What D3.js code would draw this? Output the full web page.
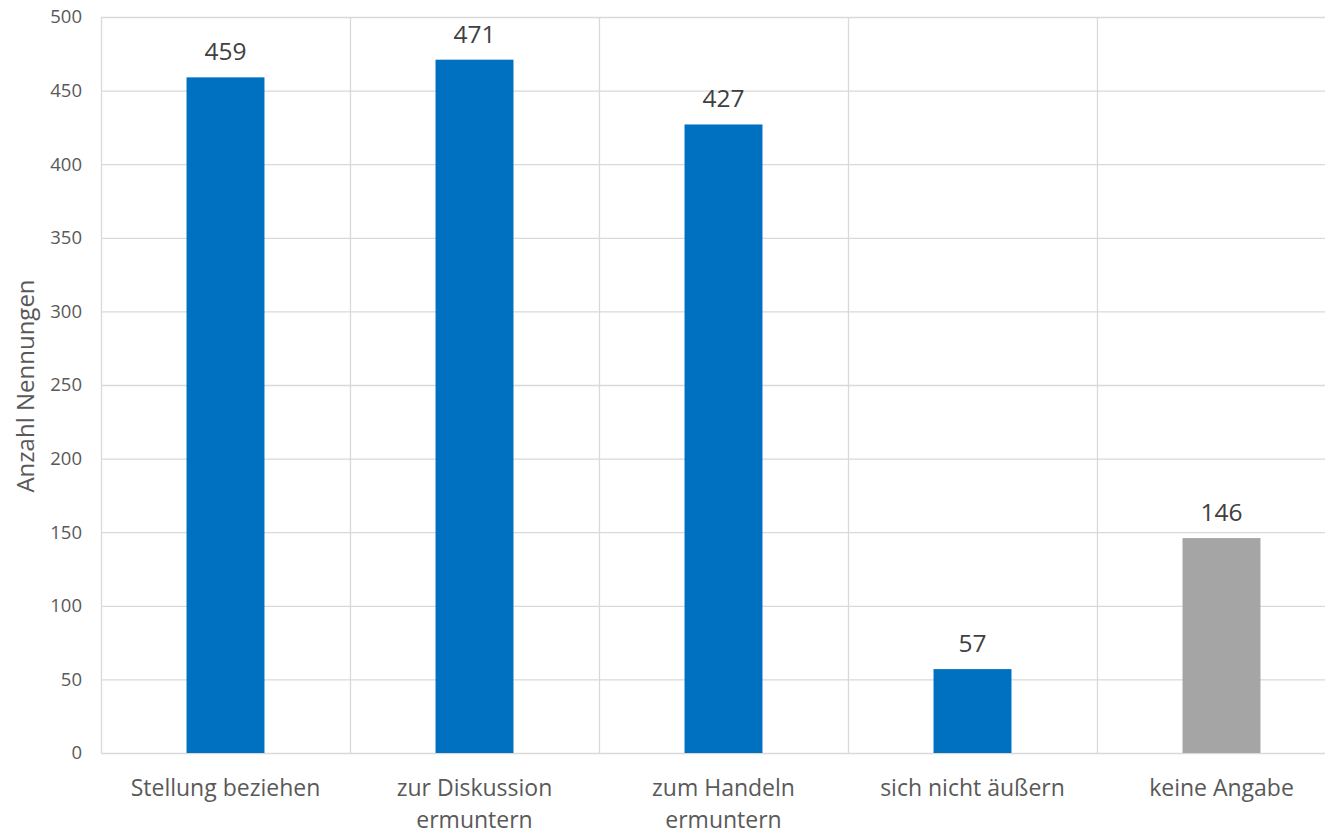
<!DOCTYPE html>
<html><head><meta charset="utf-8">
<script src="https://cdn.jsdelivr.net/npm/d3@7"></script>
<style>body{margin:0;background:#fff;} svg{display:block;font-family:"Open Sans",sans-serif;}</style>
</head><body>
<svg id="chart" width="1325" height="837"></svg>
<script>
const categories = ["Stellung beziehen", "zur Diskussion ermuntern", "zum Handeln ermuntern", "sich nicht äußern", "keine Angabe"];
const categoryLines = [["Stellung beziehen"], ["zur Diskussion", "ermuntern"], ["zum Handeln", "ermuntern"], ["sich nicht äußern"], ["keine Angabe"]];
const values = [459, 471, 427, 57, 146];
const barColors = ["#0070C0", "#0070C0", "#0070C0", "#0070C0", "#A5A5A5"];
const yTicks = [0, 50, 100, 150, 200, 250, 300, 350, 400, 450, 500];
const yTitle = "Anzahl Nennungen";

const svg = d3.select("#chart");
const mL = 101, mR = 1346, mT = 17, mB = 753;
const x = d3.scaleBand().domain(categories).range([mL, mR]).paddingInner(0).paddingOuter(0);
const y = d3.scaleLinear().domain([0, 500]).range([mB, mT]);

svg.append("g").selectAll("line").data(yTicks).join("line")
  .attr("x1", mL).attr("x2", mR)
  .attr("y1", d => y(d) + 0.5).attr("y2", d => y(d) + 0.5)
  .attr("stroke", "#D9D9D9").attr("stroke-width", 1.3);
const seps = categories.map(c => x(c)).concat([mR]);
svg.append("g").selectAll("line").data(seps).join("line")
  .attr("x1", d => Math.round(d) + 0.5).attr("x2", d => Math.round(d) + 0.5)
  .attr("y1", mT).attr("y2", mB)
  .attr("stroke", "#D9D9D9").attr("stroke-width", 1.3);

const yAxis = d3.axisLeft(y).tickValues(yTicks).tickSize(0).tickPadding(19);
const ga = svg.append("g").attr("transform", `translate(${mL},0)`).call(yAxis);
ga.select(".domain").remove();
ga.selectAll("text").attr("font-family", "Open Sans").attr("font-size", 18.5).attr("fill", "#595959");

const bw = x.bandwidth() * 0.313;
svg.append("g").selectAll("rect").data(values).join("rect")
  .attr("x", (d, i) => x(categories[i]) + x.bandwidth() / 2 - bw / 2)
  .attr("width", bw)
  .attr("y", d => y(d))
  .attr("height", d => y(0) - y(d))
  .attr("fill", (d, i) => barColors[i]);

svg.append("g").selectAll("text").data(values).join("text")
  .attr("x", (d, i) => x(categories[i]) + x.bandwidth() / 2)
  .attr("y", d => y(d) - 17)
  .attr("text-anchor", "middle")
  .attr("font-size", 24.5).attr("fill", "#404040")
  .text(d => d);

const cl = svg.append("g");
categoryLines.forEach((lines, i) => {
  lines.forEach((ln, j) => {
    cl.append("text")
      .attr("x", x(categories[i]) + x.bandwidth() / 2)
      .attr("y", 796 + j * 31.5)
      .attr("text-anchor", "middle")
      .attr("font-size", 23).attr("fill", "#595959")
      .text(ln);
  });
});

svg.append("text")
  .attr("transform", `translate(34,${(mT + mB) / 2 + 1}) rotate(-90)`)
  .attr("text-anchor", "middle")
  .attr("font-size", 24).attr("fill", "#595959")
  .text(yTitle);
</script>
</body></html>
